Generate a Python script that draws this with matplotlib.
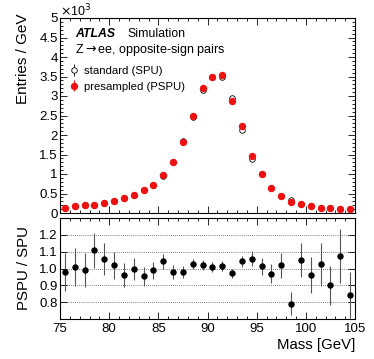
import numpy as np
import matplotlib.pyplot as plt
from matplotlib.ticker import MultipleLocator

plt.rcParams['font.family'] = ['Liberation Sans', 'DejaVu Sans']

# bin centres (1 GeV bins, 75-105 GeV)
mass = np.arange(75.5, 105, 1.0)

# entries / GeV in units of 10^3
spu = [0.14, 0.19, 0.205, 0.21, 0.25, 0.315, 0.375, 0.47, 0.58, 0.73,
       0.95, 1.30, 1.85, 2.45, 3.16, 3.49, 3.50, 2.94, 2.14, 1.39,
       0.99, 0.63, 0.43, 0.34, 0.24, 0.18, 0.14, 0.14, 0.10, 0.09]
pspu = [0.14, 0.19, 0.205, 0.21, 0.25, 0.315, 0.375, 0.47, 0.58, 0.73,
        0.98, 1.30, 1.82, 2.48, 3.20, 3.50, 3.53, 2.86, 2.22, 1.46,
        0.99, 0.63, 0.43, 0.27, 0.24, 0.18, 0.14, 0.14, 0.10, 0.09]
spu_err = [0.01, 0.01, 0.01, 0.01, 0.01, 0.01, 0.015, 0.015, 0.02, 0.02,
           0.025, 0.03, 0.035, 0.04, 0.045, 0.05, 0.05, 0.045, 0.04, 0.035,
           0.03, 0.025, 0.02, 0.02, 0.015, 0.015, 0.01, 0.01, 0.01, 0.01]
pspu_err = spu_err

ratio = [0.98, 1.009, 0.991, 1.107, 1.057, 1.02, 0.962, 0.995, 0.953, 0.99,
         1.042, 0.98, 0.98, 1.026, 1.02, 1.009, 1.015, 0.972, 1.042, 1.059,
         1.013, 0.97, 1.018, 0.79, 1.049, 0.962, 1.024, 0.90, 1.074, 0.842]
ratio_err = [0.115, 0.11, 0.10, 0.105, 0.095, 0.08, 0.07, 0.065, 0.055, 0.05,
             0.045, 0.04, 0.035, 0.03, 0.03, 0.03, 0.027, 0.027, 0.033, 0.043,
             0.05, 0.057, 0.072, 0.068, 0.10, 0.105, 0.13, 0.115, 0.16, 0.135]

W, H = 374, 359
fig = plt.figure(figsize=(W / 100, H / 100), dpi=100)
ax1 = fig.add_axes([60 / W, 1 - 213 / H, 295 / W, 195 / H])
ax2 = fig.add_axes([60 / W, 1 - 319 / H, 295 / W, 101 / H])

def style(ax):
    ax.tick_params(which='both', direction='in', top=True, right=True, width=0.6)
    ax.tick_params(which='major', length=5)
    ax.tick_params(which='minor', length=2.5)
    ax.xaxis.set_major_locator(MultipleLocator(5))
    ax.xaxis.set_minor_locator(MultipleLocator(1))
    ax.set_xlim(75, 105)
    for s in ax.spines.values():
        s.set_linewidth(0.8)

# top panel
style(ax1)
ax1.errorbar(mass, spu, yerr=spu_err, fmt='o', mfc='white', mec='black', mew=0.6,
             ms=4, ecolor='black', elinewidth=0.6, label='standard (SPU)', zorder=2)
ax1.errorbar(mass, pspu, yerr=pspu_err, fmt='o', color='#ee1111', ms=4.3,
             elinewidth=0.8, label='presampled (PSPU)', zorder=3)
ax1.set_ylim(0, 5)
ax1.yaxis.set_minor_locator(MultipleLocator(0.1))
ax1.set_yticks(np.arange(0, 5.01, 0.5))
ax1.set_yticklabels(['0', '0.5', '1', '1.5', '2', '2.5', '3', '3.5', '4', '4.5', '5'])
ax1.tick_params(labelbottom=False, labelsize=9.5, pad=1.5)
ax1.set_ylabel('Entries / GeV', fontsize=11, loc='top')
ax1.yaxis.set_label_coords(-0.10, 1.025)
fig.text(60 / W, 1 - 16 / H, r'$\times$10$^3$', fontsize=9, ha='left', va='baseline')

fig.text(75 / W, 1 - 37 / H, 'ATLAS', fontsize=8.8, fontweight='bold', style='italic')
fig.text(127 / W, 1 - 37 / H, 'Simulation', fontsize=8.8)
fig.text(75 / W, 1 - 53 / H, r'Z$\rightarrow$ee, opposite-sign pairs', fontsize=9)

ax1.legend(loc='upper left', bbox_to_anchor=(71 / W, 1 - 66 / H),
           bbox_transform=fig.transFigure, frameon=False, fontsize=8.2,
           handlelength=0.6, handletextpad=0.5, labelspacing=0.5, borderpad=0,
           borderaxespad=0)

# ratio panel
style(ax2)
for v in [0.8, 0.9, 1.0, 1.1, 1.2]:
    ax2.axhline(v, color='#555555', lw=0.6, ls=(0, (1, 1.5)), zorder=0)
ax2.errorbar(mass, ratio, yerr=ratio_err, fmt='o', color='black', ms=3.6,
             ecolor='#555555', elinewidth=0.8)
ax2.set_ylim(0.7, 1.3)
ax2.set_yticks([0.8, 0.9, 1.0, 1.1, 1.2])
ax2.set_yticklabels(['0.8', '0.9', '1.0', '1.1', '1.2'])
ax2.yaxis.set_minor_locator(MultipleLocator(0.1))
ax2.tick_params(labelsize=9.5, pad=1.5)
ax2.tick_params(axis='x', pad=3)
ax2.set_ylabel('PSPU / SPU', fontsize=10.8)
ax2.yaxis.set_label_coords(-0.10, 0.5)
ax2.set_xlabel('Mass [GeV]', fontsize=10.8, loc='right', labelpad=2)

fig.savefig('out.png', dpi=100)
